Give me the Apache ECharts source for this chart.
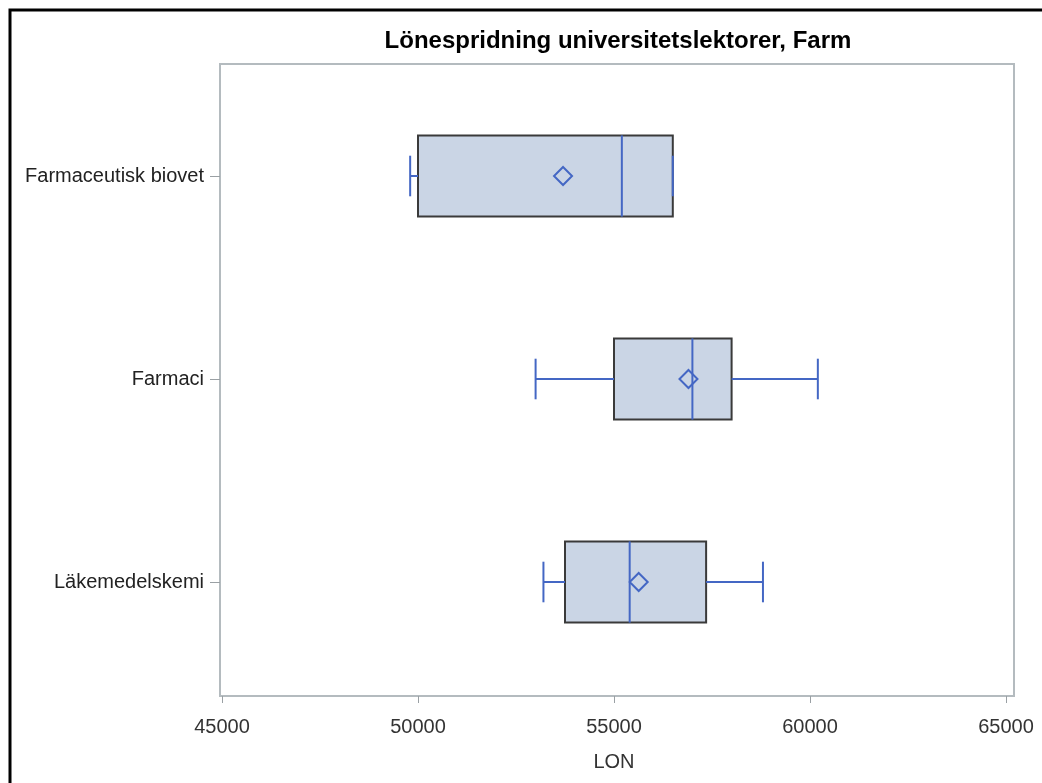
<!DOCTYPE html>
<html>
<head>
<meta charset="utf-8">
<script src="https://cdn.jsdelivr.net/npm/echarts@6/dist/echarts.min.js"></script>
<style>
  html, body { margin: 0; padding: 0; background: #fff; }
  #chart { width: 1042px; height: 783px; }
</style>
</head>
<body>
<div id="chart"></div>
<script>
// salary spread per department
const categories = ["Farmaceutisk biovet", "Farmaci", "Läkemedelskemi"];
const whiskerLow = [49800, 53000, 53200];
const q1 = [50000, 55000, 53750];
const median = [55200, 57000, 55400];
const q3 = [56500, 58000, 57350];
const whiskerHigh = [56500, 60200, 58800];
const mean = [53700, 56900, 55630];
const xMin = 45000;
const xMax = 65000;
const xStep = 5000;

const FONT = "'Liberation Sans', Arial, sans-serif";
const BLUE = "#4467c4";

const boxData = categories.map(function (c, i) {
  return [i, whiskerLow[i], q1[i], median[i], q3[i], whiskerHigh[i], mean[i]];
});

function renderBox(params, api) {
  const cat = api.value(0);
  const band = api.size([0, 1])[1];
  const half = band * 0.2;
  const cap = band * 0.1;
  const lo = api.coord([api.value(1), cat]);
  const b1 = api.coord([api.value(2), cat]);
  const md = api.coord([api.value(3), cat]);
  const b3 = api.coord([api.value(4), cat]);
  const hi = api.coord([api.value(5), cat]);
  const mn = api.coord([api.value(6), cat]);
  const y = lo[1];
  const blueLine = { stroke: BLUE, lineWidth: 2, fill: null };
  const d = 9;

  return {
    type: "group",
    children: [
      {
        type: "rect",
        shape: { x: b1[0], y: y - half, width: b3[0] - b1[0], height: half * 2 },
        style: { fill: "#cad5e5", stroke: "#3a3a3a", lineWidth: 2 },
      },
      { type: "line", shape: { x1: lo[0], y1: y, x2: b1[0], y2: y }, style: blueLine },
      { type: "line", shape: { x1: b3[0], y1: y, x2: hi[0], y2: y }, style: blueLine },
      { type: "line", shape: { x1: lo[0], y1: y - cap, x2: lo[0], y2: y + cap }, style: blueLine },
      { type: "line", shape: { x1: hi[0], y1: y - cap, x2: hi[0], y2: y + cap }, style: blueLine },
      { type: "line", shape: { x1: md[0], y1: y - half, x2: md[0], y2: y + half }, style: blueLine },
      {
        type: "polygon",
        shape: {
          points: [
            [mn[0], y - d],
            [mn[0] + d, y],
            [mn[0], y + d],
            [mn[0] - d, y],
          ],
        },
        style: blueLine,
      },
    ],
  };
}

const chart = echarts.init(document.getElementById("chart"));

chart.setOption({
  animation: false,
  backgroundColor: "#fff",
  title: {
    text: "Lönespridning universitetslektorer, Farm",
    left: 613,
    top: 24,
    textAlign: "center",
    textStyle: { fontFamily: FONT, fontSize: 24, fontWeight: "bold", color: "#000" },
  },
  graphic: [
    {
      type: "rect",
      shape: { x: 10, y: 10, width: 1100, height: 900 },
      style: { fill: null, stroke: "#000", lineWidth: 3 },
      silent: true,
    },
    {
      type: "rect",
      shape: { x: 220, y: 64, width: 794, height: 632 },
      style: { fill: null, stroke: "#b4bbbf", lineWidth: 2 },
      silent: true,
    },
  ],
  grid: { left: 222, right: 36, top: 74.5, bottom: 99.5 },
  xAxis: {
    type: "value",
    min: xMin,
    max: xMax,
    interval: xStep,
    offset: 12.5,
    name: "LON",
    nameLocation: "middle",
    nameGap: 56,
    nameTextStyle: { fontFamily: FONT, fontSize: 20, color: "#333" },
    axisLine: { show: false },
    axisTick: { show: true, length: 7, lineStyle: { color: "#9aa0a4", width: 1 } },
    axisLabel: {
      fontFamily: FONT,
      fontSize: 20,
      color: "#333",
      margin: 21,
      formatter: function (v) { return String(v); },
    },
    splitLine: { show: false },
  },
  yAxis: {
    type: "category",
    data: categories,
    inverse: true,
    offset: 2,
    axisLine: { show: false },
    axisTick: { show: true, alignWithLabel: true, length: 10, lineStyle: { color: "#9aa0a4" } },
    axisLabel: { fontFamily: FONT, fontSize: 20, color: "#222", margin: 16 },
    splitLine: { show: false },
  },
  series: [
    {
      type: "custom",
      renderItem: renderBox,
      data: boxData,
      encode: { x: [1, 2, 3, 4, 5, 6], y: 0 },
      clip: false,
    },
  ],
});
</script>
</body>
</html>
